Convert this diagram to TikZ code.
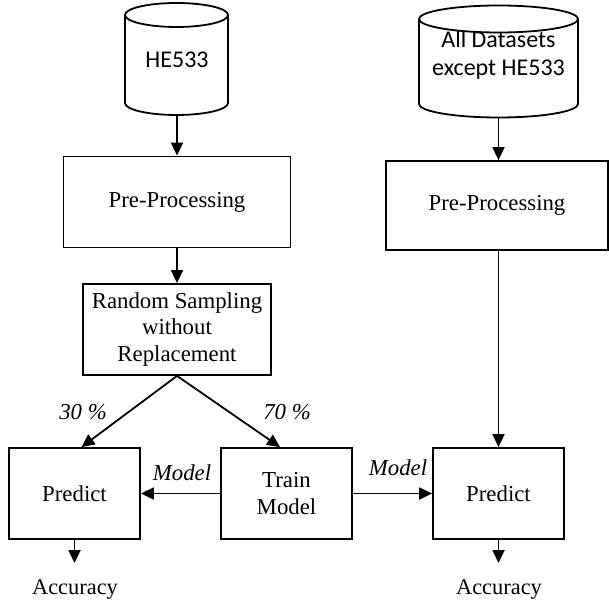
\documentclass[tikz,border=0pt]{standalone}
\usepackage{fontspec}
\setmainfont{Liberation Serif}
\newfontfamily\cylfont{Carlito}
\usetikzlibrary{arrows.meta}

\tikzset{
  box/.style={draw, line width=0.9pt, minimum height=45.5pt, inner sep=0pt,
    align=center, font=\fontsize{11.4}{13.2}\selectfont},
  dbtext/.style={align=center, font=\cylfont\fontsize{12}{14}\selectfont},
  lbl/.style={font=\itshape\fontsize{11.4}{13}\selectfont},
  plain/.style={font=\fontsize{11.2}{13}\selectfont},
  flow/.style={line width=0.9pt, -{Triangle[length=6.5pt,width=6pt]}},
}

\begin{document}
\begin{tikzpicture}[x=0.5pt, y=-0.5pt, line width=0.9pt]
    \useasboundingbox (0,0) rectangle (609,603);
    % HE533 store
    \draw (125,15) -- (125,103) arc (180:0:51.5 and 12) -- (228,15);
    \draw (176.5,15) ellipse (51.5 and 12);
    \node[dbtext] (he) at (177,60) {HE533};
    \coordinate (heB) at (177,115);
    % other datasets store
    \draw (419,19) -- (419,104) arc (180:0:79.5 and 13.5) -- (578,19);
    \draw (498.5,19) ellipse (79.5 and 13.5);
    \node[dbtext] (all) at (498.5,55) {All Datasets\\except HE533};
    \coordinate (allB) at (498.5,117.5);
    % Boxes
    \node[box, minimum width=113.5pt] (ppL) at (177,202) {Pre-Processing};
    \node[box, minimum width=111pt, minimum height=44.5pt] (ppR) at (497,205.5) {Pre-Processing};
    \node[box, minimum width=94pt] (rs) at (177,329.5) {Random Sampling\\without\\Replacement};
    \node[box, minimum width=65.5pt] (predL) at (74.5,493.5) {Predict};
    \node[box, minimum width=65.5pt] (train) at (286.5,493.5) {Train\\Model};
    \node[box, minimum width=65.5pt] (predR) at (498.5,493.5) {Predict};
    % Outputs
    \node[plain] (accL) at (75,590) {Accuracy};
    \node[plain] (accR) at (499,590) {Accuracy};
    \coordinate (accLtip) at (74.5,563);
    \coordinate (accRtip) at (498.5,563);
    % Labels
    \node[lbl] (p30) at (83,412) {30 \%};
    \node[lbl] (p70) at (287,412) {70 \%};
    \node[lbl] (mL) at (182,473) {Model};
    \node[lbl] (mR) at (398,468) {Model};
    % Arrows
    \draw[flow] (heB) -- (heB |- ppL.north);
    \draw[flow] (ppL.south) -- (rs.north);
    \draw[flow] (allB) -- (allB |- ppR.north);
    \draw[flow] (ppR.south -| predR) -- (predR.north);
    \draw[flow] (rs.south) -- ([xshift=3.5pt]predL.north);
    \draw[flow] (rs.south) -- ([xshift=-3.25pt]train.north);
    \draw[flow] (train) -- (predL);
    \draw[flow] (train) -- (predR);
    \draw[flow] (predL) -- (accLtip);
    \draw[flow] (predR) -- (accRtip);
\end{tikzpicture}
\end{document}
